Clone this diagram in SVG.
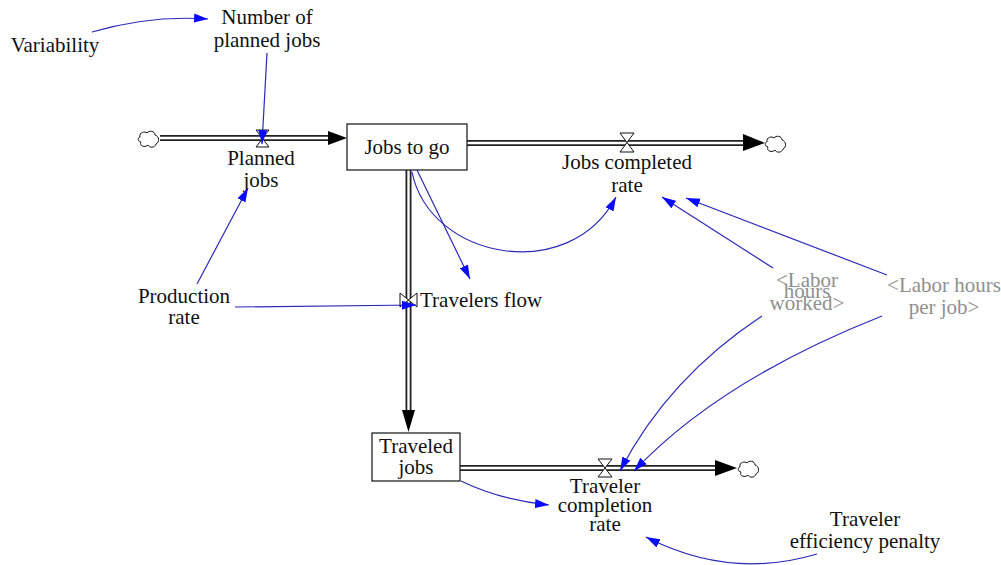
<svg xmlns="http://www.w3.org/2000/svg" width="1001" height="565" viewBox="0 0 1001 565" font-family="Liberation Serif">
<style>
svg text, text{fill:#111;text-anchor:middle;font-size:21px;font-family:"Liberation Serif",serif !important}
text.shadow{fill:#8f8f8f}
text.start{text-anchor:start}
.box{fill:#fff;stroke:#111;stroke-width:1.2}
.pipeo{fill:none;stroke:#222;stroke-width:6}
.pipei{fill:none;stroke:#fff;stroke-width:2.4}
.valve{fill:#fff;stroke:#111;stroke-width:1}
.cloud{fill:#fff;stroke:#111;stroke-width:1}
.head{fill:#000}
.link{fill:none;stroke:#2a2ab8;stroke-width:1.2;marker-end:url(#ah)}
</style>
<defs>
<marker id="ah" markerUnits="userSpaceOnUse" markerWidth="16" markerHeight="10" refX="14" refY="5" orient="auto">
<path d="M0,0.5 L14,5 L0,9.5 z" fill="#0a0aff"/>
</marker>
<path id="cl" d="M-9,-2 C-10,-7 -4,-8 -2,-6 C0,-9 6,-8 6,-4 C10,-3 11,3 7,5 C6,9 0,9 -1,6 C-4,9 -10,7 -8,3 C-12,2 -11,-2 -9,-2 z"/>
</defs>
<g id="flows">
<g id="flow-planned">
<path class="pipeo" d="M160,138 L330,138"/><path class="pipei" d="M158,138 L331,138"/>
<polygon class="head" points="328,131 347,138 328,145"/>
<use href="#cl" class="cloud" x="149" y="139"/>
</g>
<g id="flow-completed">
<path class="pipeo" d="M467,143 L746,143"/><path class="pipei" d="M467,143 L747,143"/>
<polygon class="head" points="743,134 765,143 743,151"/>
<use href="#cl" class="cloud" x="776" y="144"/>
</g>
<g id="flow-travelers">
<path class="pipeo" d="M408.5,170 L408.5,412"/><path class="pipei" d="M408.5,170 L408.5,413"/>
<polygon class="head" points="402,410 408.5,432 415,410"/>
</g>
<g id="flow-traveler-completion">
<path class="pipeo" d="M460,468 L718,468"/><path class="pipei" d="M460,468 L719,468"/>
<polygon class="head" points="715,460 737,468 715,476"/>
<use href="#cl" class="cloud" x="749" y="469"/>
</g>
</g>
<g id="node-jobs-to-go"><rect class="box" x="347" y="124" width="120" height="46"/><text x="407" y="154">Jobs to go</text></g>
<g id="node-traveled-jobs"><rect class="box" x="372" y="433" width="88" height="48"/><text x="416" y="453">Traveled</text><text x="416" y="474">jobs</text></g>
<g id="node-planned-jobs"><path class="valve" d="M256,130 L269,130 L256,147 L269,147 z"/><text x="261" y="165">Planned</text><text x="261" y="187">jobs</text></g>
<g id="node-jobs-completed-rate"><path class="valve" d="M620,133 L634,133 L620,152 L634,152 z"/><text x="627" y="169">Jobs completed</text><text x="627" y="192">rate</text></g>
<g id="node-travelers-flow"><path class="valve" d="M400,293 L400,307 L417,293 L417,307 z"/><text class="start" x="420" y="307">Travelers flow</text></g>
<g id="node-traveler-completion-rate"><path class="valve" d="M598,459 L612,459 L598,477 L612,477 z"/><text x="605" y="493">Traveler</text><text x="605" y="512">completion</text><text x="605" y="531">rate</text></g>
<g id="node-variability"><text x="55" y="52">Variability</text></g>
<g id="node-number-of-planned-jobs"><text x="267" y="24">Number of</text><text x="267" y="47">planned jobs</text></g>
<g id="node-production-rate"><text x="184" y="303">Production</text><text x="184" y="324">rate</text></g>
<g id="node-labor-hours-worked"><text class="shadow" x="807" y="287">&lt;Labor</text><text class="shadow" x="807" y="298">hours</text><text class="shadow" x="807" y="310">worked&gt;</text></g>
<g id="node-labor-hours-per-job"><text class="shadow" x="944" y="292">&lt;Labor hours</text><text class="shadow" x="944" y="314">per job&gt;</text></g>
<g id="node-traveler-efficiency-penalty"><text x="865" y="526">Traveler</text><text x="865" y="548">efficiency penalty</text></g>
<g id="connectors">
<path class="link" d="M92,32 Q150,15 208,19"/>
<path class="link" d="M267,53 L262,144"/>
<path class="link" d="M197,284 L248,188"/>
<path class="link" d="M235,307 L416,305"/>
<path class="link" d="M417,170 L470,279"/>
<path class="link" d="M412,172 C430,260 570,285 616,197"/>
<path class="link" d="M773,268 L662,197"/>
<path class="link" d="M887,275 L686,198"/>
<path class="link" d="M762,316 Q668,378 620,471"/>
<path class="link" d="M882,316 Q720,380 634,471"/>
<path class="link" d="M461,481 Q500,500 549,505"/>
<path class="link" d="M817,554 Q730,580 646,537"/>
</g>
</svg>
